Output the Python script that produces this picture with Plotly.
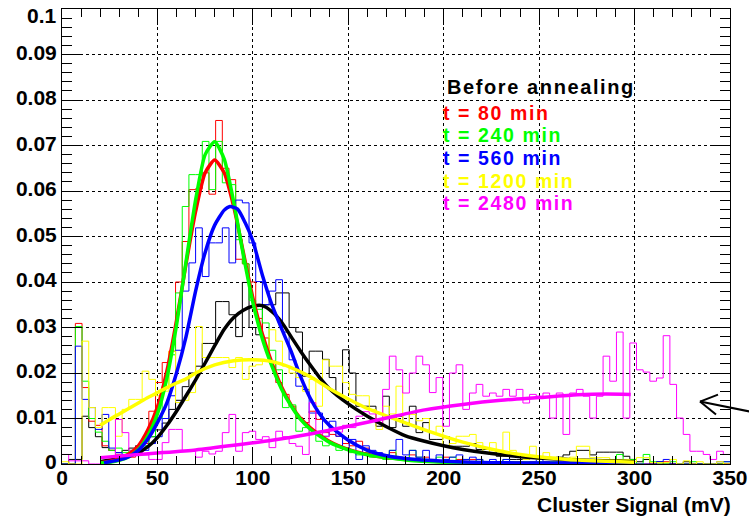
import numpy as np
import plotly.graph_objects as go

# ---------------- data ----------------
N_BINS = 100
X_MIN, X_MAX = 0.0, 350.0

BLACK = [
0.0, 0.001, 0.001, 0.0105, 0.0080, 0.0060, 0.0036, 0.0030, 0.0025, 0.0030,
0.0035, 0.0040, 0.0050, 0.0060, 0.0075, 0.0090, 0.0120, 0.0140, 0.0170, 0.0200,
0.0215, 0.0265, 0.0265, 0.0357, 0.0357, 0.0328, 0.0280, 0.0399, 0.0300, 0.0284,
0.0350, 0.0350, 0.0376, 0.0376, 0.0300, 0.0290, 0.0193, 0.0248, 0.0248, 0.0230,
0.0190, 0.0150, 0.0251, 0.0200, 0.0127, 0.0127, 0.0127, 0.0083, 0.0149, 0.0080,
0.0105, 0.0083, 0.0127, 0.0069, 0.0091, 0.0054, 0.0054, 0.0060, 0.0039, 0.0039,
0.0039, 0.0045, 0.0032, 0.0032, 0.0032, 0.0017, 0.0017, 0.0010, 0.0010, 0.0010,
0.0012, 0.0012, 0.0010, 0.0012, 0.0015, 0.0020, 0.0028, 0.0030, 0.0030, 0.0020,
0.0026, 0.0026, 0.0026, 0.0026, 0.0017, 0.0010, 0.0005, 0.0010, 0.0, 0.0005,
0.0, 0.0, 0.0, 0.0005, 0.0, 0.0, 0.0, 0.0, 0.0, 0.0]

RED = [
0.0, 0.0, 0.0309, 0.0168, 0.0094, 0.0085, 0.0040, 0.0030, 0.0020, 0.0020,
0.0015, 0.0025, 0.0045, 0.0116, 0.0179, 0.0223, 0.0248, 0.0400, 0.0489, 0.0603,
0.0605, 0.0640, 0.0593, 0.0755, 0.0650, 0.0625, 0.0450, 0.0440, 0.0400, 0.0320,
0.0277, 0.0226, 0.0179, 0.0153, 0.0127, 0.0102, 0.0091, 0.0116, 0.0098, 0.0069,
0.0065, 0.0061, 0.0045, 0.0040, 0.0050, 0.0035, 0.0025, 0.0020, 0.0015, 0.0025,
0.0015, 0.0010, 0.0020, 0.0010, 0.0015, 0.0010, 0.0005, 0.0015, 0.0005, 0.0010,
0.0005, 0.0010, 0.0, 0.0005, 0.0005, 0.0, 0.0005, 0.0, 0.0005, 0.0,
0.0005, 0.0, 0.0005, 0.0, 0.0, 0.0005, 0.0, 0.0, 0.0005, 0.0,
0.0, 0.0, 0.0005, 0.0, 0.0, 0.0, 0.0, 0.0, 0.0, 0.0,
0.0005, 0.0, 0.0, 0.0, 0.0, 0.0, 0.0, 0.0, 0.0, 0.0]

GREEN = [
0.0, 0.0, 0.0302, 0.0182, 0.0100, 0.0070, 0.0050, 0.0030, 0.0035, 0.0025,
0.0030, 0.0035, 0.0040, 0.0060, 0.0100, 0.0170, 0.0240, 0.0376, 0.0566, 0.0636,
0.0636, 0.0709, 0.0603, 0.0709, 0.0618, 0.0614, 0.0493, 0.0440, 0.0360, 0.0340,
0.0310, 0.0250, 0.0207, 0.0124, 0.0130, 0.0072, 0.0080, 0.0065, 0.0050, 0.0040,
0.0045, 0.0030, 0.0035, 0.0025, 0.0020, 0.0025, 0.0015, 0.0020, 0.0010, 0.0030,
0.0015, 0.0010, 0.0030, 0.0015, 0.0010, 0.0005, 0.0015, 0.0010, 0.0015, 0.0005,
0.0010, 0.0005, 0.0010, 0.0005, 0.0, 0.0005, 0.0010, 0.0005, 0.0, 0.0005,
0.0, 0.0005, 0.0, 0.0005, 0.0, 0.0, 0.0005, 0.0, 0.0005, 0.0010,
0.0005, 0.0, 0.0005, 0.0021, 0.0005, 0.0010, 0.0, 0.0021, 0.0005, 0.0,
0.0, 0.0005, 0.0, 0.0, 0.0005, 0.0, 0.0, 0.0, 0.0, 0.0005]

BLUE = [
0.0, 0.0, 0.0259, 0.0142, 0.0124, 0.0076, 0.0109, 0.0035, 0.0025, 0.0020,
0.0020, 0.0025, 0.0030, 0.0045, 0.0060, 0.0100, 0.0150, 0.0250, 0.0380, 0.0442,
0.0519, 0.0412, 0.0486, 0.0486, 0.0519, 0.0442, 0.0580, 0.0574, 0.0486, 0.0401,
0.0350, 0.0380, 0.0405, 0.0290, 0.0229, 0.0171, 0.0164, 0.0112, 0.0112, 0.0061,
0.0094, 0.0061, 0.0032, 0.0054, 0.0010, 0.0040, 0.0030, 0.0025, 0.0020, 0.0030,
0.0054, 0.0020, 0.0030, 0.0015, 0.0030, 0.0010, 0.0020, 0.0010, 0.0015, 0.0020,
0.0010, 0.0015, 0.0010, 0.0005, 0.0010, 0.0005, 0.0010, 0.0005, 0.0005, 0.0,
0.0005, 0.0010, 0.0005, 0.0, 0.0005, 0.0005, 0.0, 0.0005, 0.0, 0.0005,
0.0, 0.0005, 0.0, 0.0, 0.0005, 0.0, 0.0, 0.0, 0.0, 0.0005,
0.0010, 0.0, 0.0, 0.0, 0.0, 0.0, 0.0, 0.0, 0.0005, 0.0005]

YELLOW = [
0.0005, 0.0, 0.0, 0.0270, 0.0124, 0.0080, 0.0124, 0.0124, 0.0061, 0.0120,
0.0142, 0.0142, 0.0204, 0.0186, 0.0150, 0.0160, 0.0248, 0.0135, 0.0140, 0.0157,
0.0302, 0.0234, 0.0234, 0.0234, 0.0234, 0.0212, 0.0234, 0.0186, 0.0215, 0.0218,
0.0226, 0.0295, 0.0270, 0.0215, 0.0200, 0.0190, 0.0160, 0.0186, 0.0127, 0.0229,
0.0215, 0.0215, 0.0179, 0.0153, 0.0150, 0.0150, 0.0120, 0.0076, 0.0127, 0.0110,
0.0171, 0.0091, 0.0109, 0.0095, 0.0100, 0.0069, 0.0083, 0.0039, 0.0045, 0.0061,
0.0061, 0.0065, 0.0047, 0.0025, 0.0047, 0.0030, 0.0070, 0.0030, 0.0015, 0.0010,
0.0039, 0.0010, 0.0025, 0.0015, 0.0010, 0.0012, 0.0015, 0.0039, 0.0039, 0.0014,
0.0014, 0.0014, 0.0010, 0.0010, 0.0010, 0.0005, 0.0014, 0.0014, 0.0003, 0.0003,
0.0003, 0.0010, 0.0, 0.0007, 0.0, 0.0005, 0.0, 0.0, 0.0005, 0.0]

MAGENTA = [
0.0021, 0.0007, 0.0007, 0.0007, 0.0, 0.0, 0.0, 0.0010, 0.0098, 0.0069,
0.0030, 0.0035, 0.0020, 0.0010, 0.0010, 0.0047, 0.0076, 0.0076, 0.0028, 0.0028,
0.0015, 0.0028, 0.0022, 0.0028, 0.0069, 0.0109, 0.0028, 0.0069, 0.0072, 0.0054,
0.0060, 0.0036, 0.0072, 0.0060, 0.0045, 0.0039, 0.0021, 0.0135, 0.0070, 0.0060,
0.0075, 0.0070, 0.0085, 0.0080, 0.0105, 0.0115, 0.0110, 0.0090, 0.0164, 0.0237,
0.0207, 0.0156, 0.0200, 0.0237, 0.0218, 0.0157, 0.0190, 0.0083, 0.0200, 0.0218,
0.0120, 0.0156, 0.0175, 0.0149, 0.0156, 0.0149, 0.0164, 0.0149, 0.0164, 0.0134,
0.0153, 0.0149, 0.0156, 0.0101, 0.0156, 0.0065, 0.0156, 0.0164, 0.0149, 0.0101,
0.0149, 0.0237, 0.0182, 0.0290, 0.0101, 0.0266, 0.0207, 0.0202, 0.0182, 0.0189,
0.0282, 0.0175, 0.0101, 0.0065, 0.0028, 0.0028, 0.0021, 0.0010, 0.0028, 0.0021]

# fitted curves
FIT_BLACK_X = [20, 30, 40, 45, 50, 55, 60, 65, 70, 75, 80, 85, 90, 95, 100, 105, 110, 115, 120,
               125, 130, 135, 140, 150, 160, 170, 180, 190, 200, 210, 225, 250, 275, 300]
FIT_BLACK_Y = [0.0005, 0.0012, 0.0025, 0.0038, 0.0058, 0.0085, 0.0116, 0.0150, 0.0185, 0.0222,
               0.0260, 0.0296, 0.0322, 0.0338, 0.0347, 0.0348, 0.0335, 0.0312, 0.0280, 0.0248,
               0.0218, 0.0190, 0.0166, 0.0132, 0.0105, 0.0082, 0.0062, 0.0050, 0.0040, 0.0032,
               0.0023, 0.0013, 0.0008, 0.0005]

FIT_RED_X = [20, 25, 30, 35, 40, 45, 50, 55, 60, 65, 70, 75, 80, 85, 90, 95, 100, 105, 110, 115,
             120, 125, 130, 140, 150, 160, 170, 180, 200, 225, 250, 300]
FIT_RED_Y = [0.0003, 0.0006, 0.0012, 0.0022, 0.0040, 0.0075, 0.0125, 0.0205, 0.0315, 0.0440,
             0.0555, 0.0640, 0.0668, 0.0640, 0.0565, 0.0465, 0.0365, 0.0285, 0.0222, 0.0170,
             0.0130, 0.0100, 0.0080, 0.0050, 0.0032, 0.0021, 0.0014, 0.0010, 0.0005, 0.0002,
             0.0001, 0.0]

FIT_GREEN_X = [20, 25, 30, 35, 40, 45, 50, 55, 60, 65, 70, 75, 80, 85, 90, 95, 100, 105, 110, 115,
               120, 125, 130, 140, 150, 160, 170, 180, 200, 225, 250, 300]
FIT_GREEN_Y = [0.0002, 0.0004, 0.0008, 0.0016, 0.0032, 0.0062, 0.0110, 0.0190, 0.0305, 0.0445,
               0.0580, 0.0680, 0.0708, 0.0670, 0.0575, 0.0460, 0.0355, 0.0275, 0.0215, 0.0165,
               0.0128, 0.0098, 0.0077, 0.0048, 0.0031, 0.0020, 0.0014, 0.0009, 0.0004, 0.0002,
               0.0001, 0.0]

FIT_BLUE_X = [22, 25, 30, 35, 40, 45, 50, 55, 60, 65, 70, 75, 80, 85, 88, 92, 96, 100, 105, 110,
              115, 120, 125, 130, 135, 140, 150, 160, 170, 180, 200, 225, 250, 300]
FIT_BLUE_Y = [0.0003, 0.0005, 0.0009, 0.0016, 0.0030, 0.0055, 0.0091, 0.0135, 0.0200, 0.0280,
              0.0380, 0.0465, 0.0525, 0.0558, 0.0566, 0.0560, 0.0530, 0.0490, 0.0415, 0.0350,
              0.0298, 0.0248, 0.0192, 0.0145, 0.0110, 0.0085, 0.0052, 0.0030, 0.0018, 0.0012,
              0.0006, 0.0003, 0.0002, 0.0001]

FIT_YELLOW_X = [20, 25, 30, 35, 40, 45, 50, 55, 60, 65, 70, 80, 90, 100, 110, 120, 130, 140, 150,
                160, 175, 190, 210, 230, 245, 265, 285, 300]
FIT_YELLOW_Y = [0.0085, 0.0098, 0.0110, 0.0122, 0.0134, 0.0146, 0.0157, 0.0168, 0.0178, 0.0187,
                0.0200, 0.0218, 0.0227, 0.0229, 0.0225, 0.0212, 0.0192, 0.0166, 0.0143, 0.0122,
                0.0098, 0.0075, 0.0048, 0.0028, 0.0018, 0.0010, 0.0006, 0.0004]

FIT_MAGENTA_X = [20, 50, 70, 90, 110, 130, 150, 170, 190, 210, 230, 250, 270, 285, 298]
FIT_MAGENTA_Y = [0.0014, 0.0024, 0.0031, 0.0041, 0.0052, 0.0066, 0.0083, 0.0101, 0.0119, 0.0131,
                 0.0140, 0.0146, 0.0152, 0.0154, 0.0153]

Y_TICK_VALUES = [0, 0.01, 0.02, 0.03, 0.04, 0.05, 0.06, 0.07, 0.08, 0.09, 0.1]
Y_TICK_LABELS = ["0", "0.01", "0.02", "0.03", "0.04", "0.05", "0.06", "0.07", "0.08", "0.09", "0.1"]

LEGEND_TITLE = "Before annealing"
LEGEND_LABELS = ["t = 80 min", "t = 240 min", "t = 560 min", "t = 1200 min", "t = 2480 min"]
X_TITLE = "Cluster Signal (mV)"

for arr in (BLACK, RED, GREEN, BLUE, YELLOW, MAGENTA):
    assert len(arr) == N_BINS

# ---------------- figure ----------------
edges = np.linspace(X_MIN, X_MAX, N_BINS + 1)
FONT = "Liberation Sans"
TICK_FONT = dict(family=FONT, size=21, color="black", weight="bold")

def hist_trace(vals, color):
    y = list(vals) + [vals[-1]]
    return go.Scatter(x=edges, y=y, mode="lines", line=dict(color=color, width=1, shape="hv"),
                      showlegend=False, hoverinfo="skip")

def fit_trace(xs, ys, color):
    return go.Scatter(x=xs, y=ys, mode="lines",
                      line=dict(color=color, width=3.5, shape="spline", smoothing=0.6),
                      showlegend=False, hoverinfo="skip")

series = [
    (BLACK, FIT_BLACK_X, FIT_BLACK_Y, "#000000"),
    (RED, FIT_RED_X, FIT_RED_Y, "#ff0000"),
    (GREEN, FIT_GREEN_X, FIT_GREEN_Y, "#00ff00"),
    (BLUE, FIT_BLUE_X, FIT_BLUE_Y, "#0000ff"),
    (YELLOW, FIT_YELLOW_X, FIT_YELLOW_Y, "#ffff00"),
    (MAGENTA, FIT_MAGENTA_X, FIT_MAGENTA_Y, "#ff00ff"),
]

fig = go.Figure()
for h, fx, fy, c in series:
    fig.add_trace(hist_trace(h, c))
for h, fx, fy, c in series:
    fig.add_trace(fit_trace(fx, fy, c))

axis_common = dict(
    showline=True, linecolor="black", linewidth=1, mirror="ticks",
    ticks="inside", tickcolor="black", tickwidth=1,
    showgrid=True, gridcolor="black", gridwidth=1, griddash="dot",
    zeroline=False, ticklabeloverflow="allow", automargin=False,
    tickfont=TICK_FONT,
)

# the top label (range end) is drawn separately, slightly lowered as in the original
y_ticktext = Y_TICK_LABELS[:-1] + [""]

fig.update_layout(
    width=749, height=519,
    margin=dict(l=62, r=19, t=9, b=55, autoexpand=False),
    paper_bgcolor="white", plot_bgcolor="white",
    xaxis=dict(range=[X_MIN, X_MAX], dtick=50, tick0=0, ticklen=16, ticklabelstandoff=-5,
               minor=dict(dtick=10, ticklen=8, ticks="inside", tickcolor="black", showgrid=False),
               **axis_common),
    yaxis=dict(range=[0, 0.1000001], tickmode="array", tickvals=Y_TICK_VALUES,
               ticktext=y_ticktext, ticklen=20, ticklabelshift=-2,
               minor=dict(dtick=0.002, tick0=0, ticklen=10, ticks="inside", tickcolor="black",
                          showgrid=False),
               **axis_common),
)

fig.add_annotation(text=Y_TICK_LABELS[-1], xref="paper", yref="paper", x=-0.0045, y=0.9857,
                   xanchor="right", yanchor="middle", showarrow=False, font=TICK_FONT)

# x axis title (right aligned, ROOT style)
fig.add_annotation(text=X_TITLE, xref="paper", yref="paper", x=1.004, y=-0.088,
                   xanchor="right", yanchor="middle", showarrow=False,
                   font=dict(family=FONT, size=21, color="black", weight="bold"))

# legend text
legend_colors = ["#ff0000", "#00ff00", "#0000ff", "#ffff00", "#ff00ff"]
legend_y = [0.0771, 0.0722, 0.0672, 0.0622, 0.0573]
LS = "letter-spacing:1.6px"
fig.add_annotation(text=f"<span style='{LS}'>{LEGEND_TITLE}</span>", x=200.5, y=0.0828,
                   xref="x", yref="y", xanchor="left", yanchor="middle", showarrow=False,
                   font=dict(family=FONT, size=20, color="black", weight="bold"))
for lab, col, yy in zip(LEGEND_LABELS, legend_colors, legend_y):
    fig.add_annotation(text=f"<span style='{LS}'>{lab}</span>", x=198.8, y=yy,
                       xref="x", yref="y", xanchor="left", yanchor="middle", showarrow=False,
                       font=dict(family=FONT, size=19.5, color=col, weight="bold"))

# arrow at right edge
def px2paper(px, py):
    return (px - 62) / 668.0, (464.5 - py) / 455.5

tip = px2paper(700, 402)
for end in [(755, 413), (718, 395), (716, 415)]:
    e = px2paper(*end)
    fig.add_shape(type="line", xref="paper", yref="paper", x0=tip[0], y0=tip[1], x1=e[0], y1=e[1],
                  line=dict(color="black", width=2))

fig.write_html("out.html")
